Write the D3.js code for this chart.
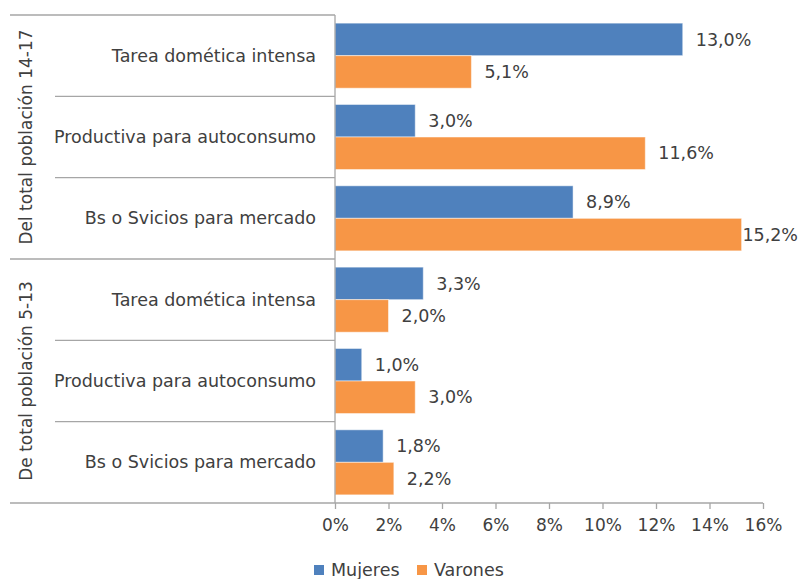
<!DOCTYPE html>
<html>
<head>
<meta charset="utf-8">
<script src="https://cdn.jsdelivr.net/npm/d3@7"></script>
<style>
  body { margin: 0; background: #fff; }
  text { font-family: "DejaVu Sans", Verdana, sans-serif; fill: #404040; }
</style>
</head>
<body>
<svg id="chart" width="800" height="579"></svg>
<script>
// data
var groups = ["Del total población 14-17", "De total población 5-13"];
var categories = ["Tarea domética intensa", "Productiva para autoconsumo", "Bs o Svicios para mercado"];
var series = ["Mujeres", "Varones"];
var mujeres = [13.0, 3.0, 8.9, 3.3, 1.0, 1.8];
var varones = [5.1, 11.6, 15.2, 2.0, 3.0, 2.2];
var xTicks = [0, 2, 4, 6, 8, 10, 12, 14, 16];
var colors = ["#4f81bd", "#f79646"];

var svg = d3.select("#chart");
var width = 800;
var plotLeft = 335, plotRight = 763, plotTop = 15, plotBottom = 503;
var lineColor = "#a6a6a6";
var fontSize = "17.5px";

// one row per category inside each group
var rows = [];
groups.forEach(function(g, gi) {
    categories.forEach(function(c, ci) {
        var i = gi * categories.length + ci;
        rows.push({ key: i, group: g, cat: c, values: [mujeres[i], varones[i]] });
    });
});

var x = d3.scaleLinear().domain([0, 16]).range([plotLeft, plotRight]);
var y = d3.scaleBand().domain(rows.map(function(d) { return d.key; }))
    .range([plotTop, plotBottom]).paddingInner(0.2).paddingOuter(0.1);
var ySub = d3.scaleBand().domain([0, 1]).range([0, y.bandwidth()]);
// with outer padding, band edges sit half a gap before each band
var bandStart = function(i) { return plotTop + i * (plotBottom - plotTop) / rows.length; };

var fmt = function(v) { return v.toFixed(1).replace(".", ",") + "%"; };

// bars
var row = svg.append("g").selectAll("g")
    .data(rows)
    .enter().append("g")
    .attr("transform", function(d) { return "translate(0," + y(d.key) + ")"; });

row.selectAll("rect")
    .data(function(d) { return d.values; })
    .enter().append("rect")
    .attr("x", x(0))
    .attr("y", function(d, i) { return ySub(i); })
    .attr("width", function(d) { return x(d) - x(0); })
    .attr("height", ySub.bandwidth())
    .attr("fill", function(d, i) { return colors[i]; })
    .attr("stroke", "#fff")
    .attr("stroke-opacity", 0.5)
    .attr("stroke-width", 1);

row.selectAll("text.val")
    .data(function(d) { return d.values; })
    .enter().append("text")
    .attr("class", "val")
    .attr("y", function(d, i) { return ySub(i) + ySub.bandwidth() / 2; })
    .attr("dy", "0.35em")
    .style("font-size", fontSize)
    .text(fmt)
    .attr("x", function(d) {
        // keep labels inside the picture, like Excel does for the long bar
        var w = this.getComputedTextLength();
        return Math.min(x(d) + 13, width - w - 2);
    });

// category separators and labels
var grid = svg.append("g").attr("stroke", lineColor).attr("stroke-width", 1.3);
rows.forEach(function(d, i) {
    var yTop = bandStart(i);
    var outer = (i % categories.length === 0);
    grid.append("line")
        .attr("x1", outer ? 10 : 55).attr("x2", plotLeft)
        .attr("y1", yTop).attr("y2", yTop);
});
grid.append("line").attr("x1", 10).attr("x2", plotLeft).attr("y1", plotBottom).attr("y2", plotBottom);
grid.append("line").attr("x1", plotLeft).attr("x2", plotLeft).attr("y1", plotTop).attr("y2", plotBottom);

svg.append("g").selectAll("text")
    .data(rows)
    .enter().append("text")
    .attr("x", 316)
    .attr("y", function(d) { return y(d.key) + y.bandwidth() / 2; })
    .attr("dy", "0.35em")
    .attr("text-anchor", "end")
    .style("font-size", fontSize)
    .text(function(d) { return d.cat; });

// group labels (rotated)
svg.append("g").selectAll("text")
    .data(groups)
    .enter().append("text")
    .attr("transform", function(d, gi) {
        var cy = (bandStart(gi * categories.length) + bandStart((gi + 1) * categories.length)) / 2;
        return "translate(32," + cy + ") rotate(-90)";
    })
    .attr("text-anchor", "middle")
    .style("font-size", "17px")
    .text(function(d) { return d; });

// x axis
var xAxis = svg.append("g")
    .attr("transform", "translate(0," + plotBottom + ")")
    .call(d3.axisBottom(x).tickValues(xTicks).tickSize(6).tickPadding(10)
        .tickFormat(function(d) { return d + "%"; }));
xAxis.select(".domain").attr("stroke", lineColor).attr("stroke-width", 1.3).attr("d", "M" + plotLeft + ",0H" + plotRight);
xAxis.selectAll(".tick line").attr("stroke", lineColor).attr("stroke-width", 1.3);
xAxis.selectAll(".tick text")
    .style("font-family", "'DejaVu Sans', Verdana, sans-serif")
    .style("font-size", "17px")
    .attr("fill", "#404040");

// legend
var legend = svg.append("g").attr("transform", "translate(314,570)");
var legX = [0, 103];
series.forEach(function(s, i) {
    var g = legend.append("g").attr("transform", "translate(" + legX[i] + ",0)");
    g.append("rect").attr("x", 0).attr("y", -5).attr("width", 10).attr("height", 10).attr("fill", colors[i]);
    g.append("text").attr("x", 17).attr("dy", "0.35em").style("font-size", fontSize).text(s);
});
</script>
</body>
</html>
